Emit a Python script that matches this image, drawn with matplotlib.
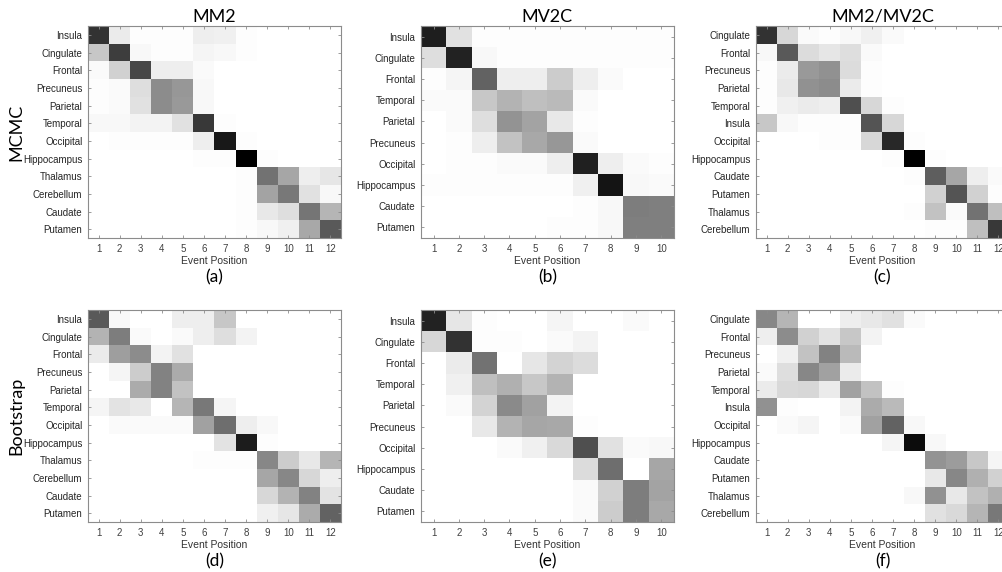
import numpy as np
import matplotlib
matplotlib.use('Agg')
import matplotlib.pyplot as plt

# region orders (rows of each matrix)
rows_mm2 = ['Insula', 'Cingulate', 'Frontal', 'Precuneus', 'Parietal', 'Temporal',
            'Occipital', 'Hippocampus', 'Thalamus', 'Cerebellum', 'Caudate', 'Putamen']
rows_mv2c = ['Insula', 'Cingulate', 'Frontal', 'Temporal', 'Parietal', 'Precuneus',
             'Occipital', 'Hippocampus', 'Caudate', 'Putamen']
rows_both = ['Cingulate', 'Frontal', 'Precuneus', 'Parietal', 'Temporal', 'Insula',
             'Occipital', 'Hippocampus', 'Caudate', 'Putamen', 'Thalamus', 'Cerebellum']

col_titles = ['MM2', 'MV2C', 'MM2/MV2C']
row_titles = ['MCMC', 'Bootstrap']
panel_tags = ['(a)', '(b)', '(c)', '(d)', '(e)', '(f)']

# positional variance (probability of region at event position)
mm2_mcmc = [
    [0.80, 0.08, 0.01, 0.01, 0.01, 0.07, 0.06, 0.01, 0, 0, 0, 0],
    [0.22, 0.76, 0.03, 0.01, 0.01, 0.04, 0.03, 0.01, 0, 0, 0, 0],
    [0.02, 0.18, 0.72, 0.07, 0.07, 0.02, 0, 0, 0, 0, 0, 0],
    [0.01, 0.02, 0.13, 0.45, 0.41, 0.03, 0, 0, 0, 0, 0, 0],
    [0.01, 0.02, 0.12, 0.45, 0.40, 0.03, 0, 0, 0, 0, 0, 0],
    [0.03, 0.03, 0.05, 0.05, 0.12, 0.78, 0.01, 0, 0, 0, 0, 0],
    [0, 0.01, 0.01, 0.01, 0.01, 0.07, 0.90, 0.01, 0, 0, 0, 0],
    [0, 0, 0, 0, 0, 0.01, 0.01, 1.00, 0.01, 0, 0, 0],
    [0, 0, 0, 0, 0, 0, 0, 0.01, 0.55, 0.35, 0.07, 0.10],
    [0, 0, 0, 0, 0, 0, 0, 0.01, 0.36, 0.53, 0.12, 0.03],
    [0, 0, 0, 0, 0, 0, 0, 0.01, 0.09, 0.13, 0.54, 0.29],
    [0, 0, 0, 0, 0, 0, 0, 0.01, 0.03, 0.06, 0.34, 0.65],
]
mv2c_mcmc = [
    [0.88, 0.12, 0.01, 0.01, 0.01, 0.01, 0.01, 0.01, 0.01, 0.01],
    [0.13, 0.86, 0.03, 0.01, 0.01, 0.01, 0.01, 0.01, 0.01, 0.01],
    [0.01, 0.04, 0.61, 0.07, 0.07, 0.20, 0.07, 0.02, 0, 0],
    [0.02, 0.02, 0.22, 0.30, 0.25, 0.27, 0.02, 0, 0, 0],
    [0, 0.02, 0.13, 0.42, 0.36, 0.09, 0.01, 0, 0, 0],
    [0, 0.01, 0.07, 0.24, 0.34, 0.41, 0.02, 0, 0, 0],
    [0, 0.01, 0.01, 0.02, 0.02, 0.07, 0.87, 0.07, 0.02, 0.01],
    [0.01, 0.01, 0.01, 0.01, 0.01, 0.01, 0.06, 0.92, 0.03, 0.02],
    [0, 0, 0, 0, 0, 0, 0.01, 0.03, 0.51, 0.50],
    [0, 0, 0, 0, 0, 0.01, 0.01, 0.03, 0.50, 0.50],
]
both_mcmc = [
    [0.80, 0.16, 0.02, 0.01, 0.03, 0.06, 0.02, 0, 0, 0, 0, 0],
    [0.03, 0.65, 0.14, 0.10, 0.13, 0.02, 0, 0, 0, 0, 0, 0],
    [0.01, 0.08, 0.40, 0.43, 0.14, 0.01, 0, 0, 0, 0, 0, 0],
    [0.01, 0.09, 0.43, 0.45, 0.08, 0.01, 0, 0, 0, 0, 0, 0],
    [0.01, 0.06, 0.08, 0.07, 0.69, 0.16, 0.01, 0, 0, 0, 0, 0],
    [0.22, 0.03, 0.01, 0.01, 0.01, 0.67, 0.16, 0, 0, 0, 0, 0],
    [0, 0, 0, 0.01, 0.01, 0.16, 0.84, 0.01, 0, 0, 0, 0],
    [0, 0, 0, 0, 0, 0, 0.01, 1.00, 0.01, 0, 0, 0],
    [0, 0, 0, 0, 0, 0, 0, 0.01, 0.63, 0.35, 0.07, 0.02],
    [0, 0, 0, 0, 0, 0, 0, 0, 0.18, 0.67, 0.18, 0.01],
    [0, 0, 0, 0, 0, 0, 0, 0.01, 0.24, 0.02, 0.55, 0.25],
    [0, 0, 0, 0, 0, 0, 0, 0, 0.01, 0.01, 0.25, 0.78],
]
mm2_boot = [
    [0.65, 0.03, 0, 0, 0.07, 0.07, 0.22, 0, 0, 0, 0, 0],
    [0.30, 0.51, 0.02, 0, 0.02, 0.07, 0.13, 0.05, 0, 0, 0, 0],
    [0.08, 0.38, 0.45, 0.05, 0.12, 0, 0, 0, 0, 0, 0, 0],
    [0, 0.04, 0.20, 0.49, 0.33, 0, 0, 0, 0, 0, 0, 0],
    [0, 0, 0.33, 0.49, 0.24, 0, 0, 0, 0, 0, 0, 0],
    [0.04, 0.11, 0.09, 0, 0.29, 0.53, 0.04, 0, 0, 0, 0, 0],
    [0, 0.02, 0.02, 0.02, 0.02, 0.37, 0.57, 0.07, 0.03, 0, 0, 0],
    [0, 0, 0, 0, 0, 0, 0.11, 0.89, 0.01, 0, 0, 0],
    [0, 0, 0, 0, 0, 0.01, 0.01, 0.01, 0.47, 0.20, 0.09, 0.29],
    [0, 0, 0, 0, 0, 0, 0, 0, 0.35, 0.47, 0.16, 0.07],
    [0, 0, 0, 0, 0, 0, 0, 0, 0.16, 0.30, 0.49, 0.11],
    [0, 0, 0, 0, 0, 0, 0, 0, 0.06, 0.10, 0.33, 0.61],
]
mv2c_boot = [
    [0.86, 0.10, 0.01, 0, 0, 0.04, 0, 0, 0.02, 0],
    [0.16, 0.80, 0.01, 0.01, 0, 0.02, 0.05, 0, 0, 0],
    [0, 0.08, 0.55, 0, 0.10, 0.17, 0.14, 0, 0, 0],
    [0, 0.06, 0.25, 0.31, 0.22, 0.30, 0, 0, 0, 0],
    [0, 0.02, 0.17, 0.46, 0.37, 0.05, 0, 0, 0, 0],
    [0, 0, 0.09, 0.30, 0.35, 0.34, 0.01, 0, 0, 0],
    [0, 0, 0, 0.02, 0.06, 0.15, 0.69, 0.12, 0.02, 0.03],
    [0, 0, 0, 0, 0, 0, 0.14, 0.57, 0, 0.35],
    [0, 0, 0, 0, 0, 0, 0.02, 0.18, 0.51, 0.36],
    [0, 0, 0, 0, 0, 0, 0.02, 0.20, 0.51, 0.34],
]
both_boot = [
    [0.47, 0.29, 0, 0, 0.07, 0.09, 0.12, 0.02, 0, 0, 0, 0],
    [0.07, 0.45, 0.18, 0.11, 0.22, 0.05, 0, 0, 0, 0, 0, 0],
    [0, 0.06, 0.24, 0.49, 0.27, 0, 0, 0, 0, 0, 0, 0],
    [0.02, 0.13, 0.47, 0.37, 0.08, 0, 0, 0, 0, 0, 0, 0],
    [0.08, 0.15, 0.16, 0.08, 0.37, 0.24, 0.01, 0, 0, 0, 0, 0],
    [0.43, 0.01, 0, 0, 0.05, 0.33, 0.27, 0, 0, 0, 0, 0],
    [0, 0.02, 0.04, 0, 0.02, 0.37, 0.61, 0.03, 0, 0, 0, 0],
    [0, 0, 0, 0, 0, 0, 0.04, 0.95, 0.03, 0, 0, 0],
    [0, 0, 0, 0, 0, 0, 0, 0, 0.42, 0.39, 0.22, 0.04],
    [0, 0, 0, 0, 0, 0, 0, 0, 0.09, 0.47, 0.31, 0.18],
    [0, 0, 0, 0, 0, 0, 0, 0.03, 0.43, 0.09, 0.24, 0.31],
    [0, 0, 0, 0, 0, 0, 0, 0, 0.12, 0.15, 0.29, 0.53],
]

panels = [(mm2_mcmc, rows_mm2), (mv2c_mcmc, rows_mv2c), (both_mcmc, rows_both),
          (mm2_boot, rows_mm2), (mv2c_boot, rows_mv2c), (both_boot, rows_both)]

tick_font = 'Liberation Sans'
head_font = 'Lato'
edge = '#8c8c8c'

fig = plt.figure(figsize=(10.03, 5.72), dpi=100)

lefts = [0.0877, 0.4197, 0.7537]
bottoms = [0.5839, 0.0874]
w, h = 0.2522, 0.3706

for k, (mat, labels) in enumerate(panels):
    r, c = divmod(k, 3)
    ax = fig.add_axes([lefts[c], bottoms[r], w, h])
    m = np.array(mat)
    n = m.shape[1]
    ax.imshow(m, cmap='gray_r', vmin=0, vmax=1, aspect='auto', interpolation='nearest')
    ax.set_xticks(range(n))
    ax.set_xticklabels([str(i + 1) for i in range(n)], fontfamily=tick_font, fontsize=7, color='#404040')
    ax.set_yticks(range(len(labels)))
    ax.set_yticklabels(labels, fontfamily=tick_font, fontsize=7, color='#262626')
    ax.tick_params(direction='in', length=2.5, width=0.6, color=edge, top=True, right=True, pad=4)
    for s in ax.spines.values():
        s.set_color(edge)
        s.set_linewidth(0.8)
    ax.set_xlabel('Event Position', fontfamily=tick_font, fontsize=7.5, color='#333333', labelpad=2)
    ax.text(0.5, -0.185, panel_tags[k], transform=ax.transAxes, ha='center', va='center',
            fontfamily=head_font, fontsize=12.5)
    if r == 0:
        ax.set_title(col_titles[c], fontfamily=head_font, fontsize=13, pad=3)
    if c == 0:
        fig.text(0.016, bottoms[r] + h / 2, row_titles[r], rotation=90, ha='center', va='center',
                 fontfamily=head_font, fontsize=13)

fig.savefig('out.png', dpi=100)
